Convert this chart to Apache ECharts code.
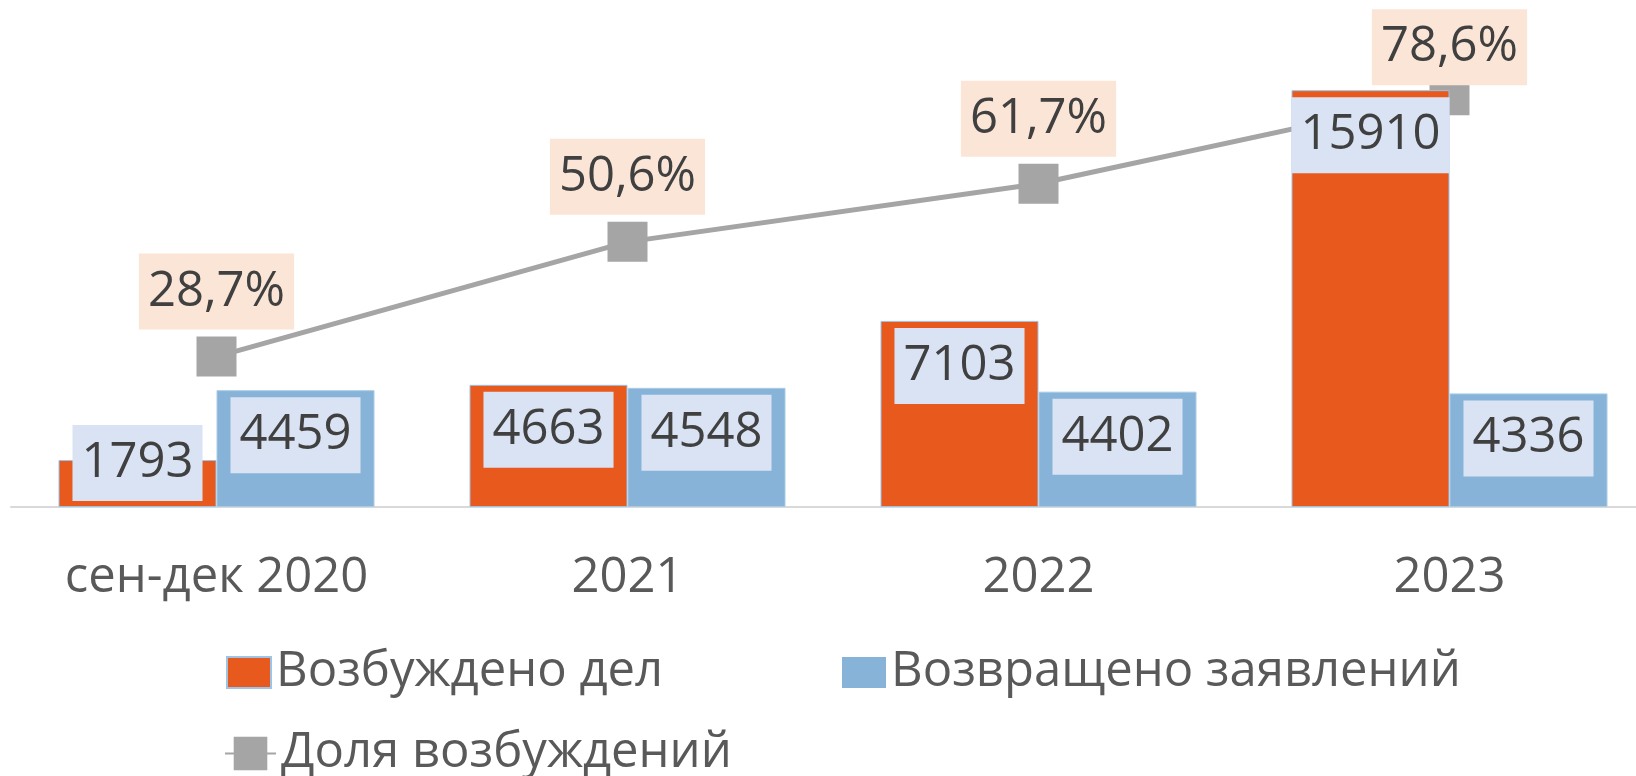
<!DOCTYPE html>
<html>
<head>
<meta charset="utf-8">
<script src="https://cdn.jsdelivr.net/npm/echarts@6/dist/echarts.min.js"></script>
<style>
html,body{margin:0;padding:0;background:#fff;}
#chart{width:1636px;height:776px;}
</style>
</head>
<body>
<div id="chart"></div>
<script>
var categories = ['сен-дек 2020', '2021', '2022', '2023'];
var initiated = [1793, 4663, 7103, 15910];
var returned = [4459, 4548, 4402, 4336];
var share = [28.7, 50.6, 61.7, 78.6];
var seriesNames = ['Возбуждено дел', 'Возвращено заявлений', 'Доля возбуждений'];

var FONT = '"Open Sans", sans-serif';
var chart = echarts.init(document.getElementById('chart'), null, {renderer: 'canvas'});

var barLabel = {
  show: true,
  position: 'insideTop',
  distance: 7,
  fontFamily: FONT,
  fontSize: 49,
  lineHeight: 58,
  color: '#404040',
  backgroundColor: '#dae3f3',
  padding: [9, 9]
};

var initData = initiated.map(function (v, i) {
  if (i === 0) return {value: v, label: {offset: [0, -42]}};
  return v;
});
var shareData = share.map(function (v, i) {
  if (i === share.length - 1) return {value: v, label: {offset: [0, 17]}};
  return v;
});

var legendText = {fontFamily: FONT, fontSize: 49, color: '#595959'};

var option = {
  animation: false,
  backgroundColor: '#ffffff',
  grid: {left: 11, top: -17, width: 1644, height: 524, containLabel: false, outerBoundsMode: 'none'},
  xAxis: {
    type: 'category',
    data: categories,
    axisLine: {show: true, lineStyle: {color: '#d9d9d9', width: 2}},
    axisTick: {show: false},
    axisLabel: {fontFamily: FONT, fontSize: 49, color: '#595959', margin: 47}
  },
  yAxis: [
    {type: 'value', min: 0, max: 20000, show: false, splitLine: {show: false}},
    {type: 'value', min: 0, max: 100, show: false, splitLine: {show: false}}
  ],
  legend: [
    {
      data: [seriesNames[0]], left: 221, top: 643, itemWidth: 44, itemHeight: 31, icon: 'rect',
      textStyle: legendText
    },
    {
      data: [seriesNames[1]], left: 837, top: 643, itemWidth: 44, itemHeight: 31, icon: 'rect',
      itemStyle: {borderWidth: 0},
      textStyle: legendText
    },
    {
      data: [seriesNames[2]], left: 219, top: 724, itemWidth: 51, itemHeight: 42,
      textStyle: legendText
    }
  ],
  series: [
    {
      name: seriesNames[0],
      type: 'bar',
      z: 3,
      data: initData,
      barWidth: 158,
      barGap: '0%',
      itemStyle: {color: '#e8591e', borderColor: '#9dc3e6', borderWidth: 1},
      label: barLabel
    },
    {
      name: seriesNames[1],
      type: 'bar',
      z: 3,
      data: returned,
      barWidth: 158,
      barGap: '0%',
      itemStyle: {color: '#86b3d7', borderColor: '#a9cbe6', borderWidth: 1},
      label: barLabel
    },
    {
      name: seriesNames[2],
      type: 'line',
      z: 2,
      yAxisIndex: 1,
      data: shareData,
      symbol: 'rect',
      symbolSize: 40,
      lineStyle: {color: '#a5a5a5', width: 5},
      itemStyle: {color: '#a5a5a5'},
      label: {
        show: true,
        position: 'top',
        distance: 7,
        formatter: function (p) { return String(p.value).replace('.', ',') + '%'; },
        fontFamily: FONT,
        fontSize: 49,
        lineHeight: 58,
        color: '#404040',
        backgroundColor: '#fbe5d6',
        padding: [9, 9]
      }
    }
  ]
};
chart.setOption(option);
</script>
</body>
</html>
